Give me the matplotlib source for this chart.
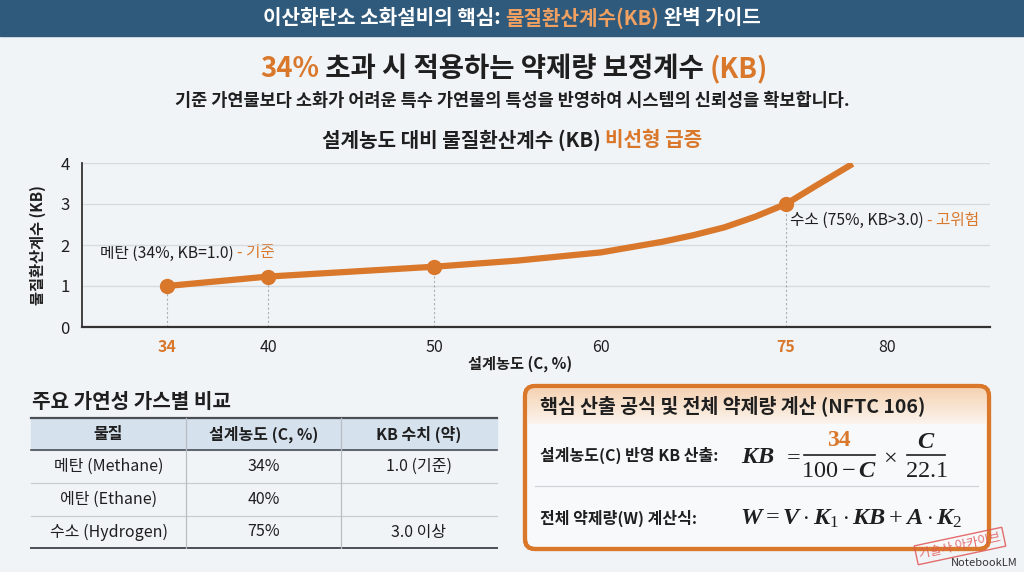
import numpy as np
import matplotlib
matplotlib.use('Agg')
import matplotlib.pyplot as plt
from matplotlib.patches import Rectangle, FancyBboxPatch

plt.rcParams['font.family'] = ['Noto Sans CJK KR', 'DejaVu Sans']
plt.rcParams['mathtext.fontset'] = 'custom'
plt.rcParams['mathtext.it'] = 'Liberation Serif:bold:italic'
plt.rcParams['mathtext.rm'] = 'Liberation Serif'
plt.rcParams['mathtext.bf'] = 'Liberation Serif:bold'

# ---------------- data ----------------
conc_pts = [34, 40, 50, 75]
kb_pts = [1.0, 1.23, 1.47, 3.0]
conc_curve = [34, 40, 50, 55, 60, 62.5, 65, 67.5, 70, 72.5, 75, 76.5, 78.3]
kb_curve = [1.0, 1.23, 1.47, 1.62, 1.82, 1.95, 2.08, 2.24, 2.43, 2.69, 3.0, 3.45, 3.98]
x_ticks = [34, 40, 50, 60, 75, 80]
highlight_ticks = [34, 75]
y_ticks = [0, 1, 2, 3, 4]
table_cols = ['물질', '설계농도 (C, %)', 'KB 수치 (약)']
substances = ['메탄 (Methane)', '에탄 (Ethane)', '수소 (Hydrogen)']
design_conc = ['34%', '40%', '75%']
kb_values = ['1.0 (기준)', '', '3.0 이상']

# axis scale knots (value -> screen position, non-uniform axis as drawn)
scale_vals = [28.9, 34, 40, 50, 60, 75, 80, 85.1]
scale_pos = [82, 167, 268, 434, 601, 786, 887, 990]

ORANGE = '#d9772b'
NAVY = '#2f5a7c'
BG = '#f1f4f7'
DARK = '#1f1f1f'

fig = plt.figure(figsize=(10.24, 5.72), dpi=100)
fig.patch.set_facecolor(BG)
bg = fig.add_axes([0, 0, 1, 1])
bg.set_xlim(0, 1024)
bg.set_ylim(572, 0)
bg.axis('off')
bg.set_zorder(0)

renderer = fig.canvas.get_renderer()


def text_width(s, **kw):
    t1 = bg.text(0, 0, '|' + s + '|', **kw)
    t2 = bg.text(0, 0, '||', **kw)
    w = t1.get_window_extent(renderer).width - t2.get_window_extent(renderer).width
    t1.remove(); t2.remove()
    return w


def runs(x, y, parts, ha='center', **kw):
    widths = [text_width(s, **kw) for s, c in parts]
    total = sum(widths)
    start = x - total / 2 if ha == 'center' else x
    for (s, c), w in zip(parts, widths):
        bg.text(start, y, s, color=c, ha='left', va='center', **kw)
        start += w


# header bar
bg.add_patch(Rectangle((0, 0), 1024, 36, color=NAVY, zorder=1))
runs(512, 18, [('이산화탄소 소화설비의 핵심: ', 'white'), ('물질환산계수(KB)', '#f0a060'),
               (' 완벽 가이드', 'white')], fontsize=14.5, fontweight='bold')

# headline
runs(514, 69, [('34%', ORANGE), (' 초과 시 적용하는 약제량 보정계수 ', DARK), ('(KB)', ORANGE)],
     fontsize=19.8, fontweight='bold')
bg.text(512, 101, '기준 가연물보다 소화가 어려운 특수 가연물의 특성을 반영하여 시스템의 신뢰성을 확보합니다.',
        ha='center', va='center', fontsize=12.6, color=DARK, fontweight='bold')

# chart title
runs(512, 140, [('설계농도 대비 물질환산계수 (KB) ', DARK), ('비선형 급증', ORANGE)],
     fontsize=14.5, fontweight='bold')


# ---------------- chart ----------------
def px2fig(l, t, r, b):
    return [l / 1024, 1 - b / 572, (r - l) / 1024, (b - t) / 572]


ax = fig.add_axes(px2fig(82, 163, 990, 327))
ax.set_facecolor('none')
ax.set_xscale('function', functions=(lambda v: np.interp(v, scale_vals, scale_pos),
                                     lambda p: np.interp(p, scale_pos, scale_vals)))
ax.set_xlim(scale_vals[0], scale_vals[-1])
ax.set_ylim(0, 4)
ax.set_yticks(y_ticks)
ax.set_xticks(x_ticks)
ax.set_xticklabels([str(v) for v in x_ticks])
for lbl, v in zip(ax.get_xticklabels(), x_ticks):
    if v in highlight_ticks:
        lbl.set_color(ORANGE)
        lbl.set_fontweight('bold')
    else:
        lbl.set_color(DARK)
ax.tick_params(axis='x', length=0, pad=9, labelsize=11.5)
ax.tick_params(axis='y', length=0, pad=9, labelsize=12, labelcolor=DARK)
for s in ['top', 'right']:
    ax.spines[s].set_visible(False)
ax.spines['left'].set_color('#333333')
ax.spines['bottom'].set_color('#333333')
ax.spines['left'].set_linewidth(1.3)
ax.spines['bottom'].set_linewidth(1.6)
ax.yaxis.grid(True, color='#d6dbe0', lw=1)
ax.set_axisbelow(True)

ax.vlines(conc_pts, 0, kb_pts, colors='#aab0b6', linestyles=(0, (2, 2)), lw=0.8, zorder=2)
ax.plot(conc_curve, kb_curve, color=ORANGE, lw=4.5, solid_capstyle='butt',
        solid_joinstyle='round', zorder=3)
ax.plot(conc_pts, kb_pts, 'o', color=ORANGE, ms=10, zorder=4)

ax.set_ylabel('물질환산계수 (KB)', fontsize=11, fontweight='bold', color=DARK, labelpad=10)

bg.text(520, 364, '설계농도 (C, %)', ha='center', va='center', fontsize=11, fontweight='bold', color=DARK)
runs(100, 253, [('메탄 (34%, KB=1.0) ', DARK), ('- 기준', ORANGE)], ha='left', fontsize=11.3)
runs(790, 220, [('수소 (75%, KB>3.0) ', DARK), ('- 고위험', ORANGE)], ha='left', fontsize=11.3)

# ---------------- table ----------------
bg.text(32, 402, '주요 가연성 가스별 비교', ha='left', va='center', fontsize=14.5, fontweight='bold', color=DARK)
tl, tr = 31, 497
row_y = [418, 450, 483, 516, 548]
col_x = [31, 186, 341, 497]
bg.add_patch(Rectangle((tl, row_y[0]), tr - tl, row_y[1] - row_y[0], color='#d5e1ec', zorder=1))
bg.plot([tl, tr], [row_y[0]] * 2, color='#4a4f55', lw=1.6, zorder=2)
bg.plot([tl, tr], [row_y[1]] * 2, color='#4a4f55', lw=1.2, zorder=2)
for yy in row_y[2:4]:
    bg.plot([tl, tr], [yy] * 2, color='#c8ccd0', lw=0.9, zorder=2)
bg.plot([tl, tr], [row_y[4]] * 2, color='#4a4f55', lw=1.4, zorder=2)
for xx in col_x[1:3]:
    bg.plot([xx, xx], [row_y[0], row_y[4]], color='#b8bec4', lw=0.9, zorder=2)
centers = [(col_x[i] + col_x[i + 1]) / 2 for i in range(3)]
for c, h in zip(centers, table_cols):
    bg.text(c, (row_y[0] + row_y[1]) / 2, h, ha='center', va='center', fontsize=11.5,
            fontweight='bold', color=DARK)
for r, vals in enumerate(zip(substances, design_conc, kb_values)):
    yc = (row_y[r + 1] + row_y[r + 2]) / 2
    for c, v in zip(centers, vals):
        bg.text(c, yc, v, ha='center', va='center', fontsize=11.5, color=DARK)

# ---------------- formula box ----------------
box = FancyBboxPatch((525, 386), 464, 163, boxstyle='round,pad=0,rounding_size=10',
                     facecolor='#f8f9fb', edgecolor=ORANGE, lw=3, zorder=2)
bg.add_patch(box)
grad = np.linspace(0, 1, 50).reshape(-1, 1)
top_c = np.array([0.96, 0.82, 0.69])
bot_c = np.array([0.985, 0.955, 0.93])
img = top_c[None, None, :] * (1 - grad[:, :, None]) + bot_c[None, None, :] * grad[:, :, None]
im = bg.imshow(img, extent=(525, 989, 424, 386), aspect='auto', zorder=2.5, interpolation='bilinear')
im.set_clip_path(box)
bg.add_patch(FancyBboxPatch((525, 386), 464, 163, boxstyle='round,pad=0,rounding_size=10',
                            facecolor='none', edgecolor=ORANGE, lw=3, zorder=3))
bg.set_xlim(0, 1024)
bg.set_ylim(572, 0)

bg.text(540, 406, '핵심 산출 공식 및 전체 약제량 계산 (NFTC 106)', ha='left', va='center',
        fontsize=14, fontweight='bold', color=DARK, zorder=4)
bg.text(540, 455, '설계농도(C) 반영 KB 산출:', ha='left', va='center', fontsize=11.5,
        fontweight='bold', color=DARK, zorder=4)
bg.plot([535, 978], [486, 486], color='#cfd3d7', lw=0.9, zorder=4)
bg.text(540, 518, '전체 약제량(W) 계산식:', ha='left', va='center', fontsize=11.5,
        fontweight='bold', color=DARK, zorder=4)

fkw = dict(fontsize=17.5, color=DARK, zorder=4, va='center')
bg.text(741, 456, r'$KB$', ha='left', **fkw)
bg.text(792, 456, r'$=$', ha='center', **fkw)
bg.text(839, 441, '34', ha='center', va='center', fontsize=17, color=ORANGE,
        family='Liberation Serif', fontweight='bold', zorder=4)
bg.plot([804, 875], [455, 455], color=DARK, lw=1.2, zorder=4)
bg.text(839, 470, r'$100 - C$', ha='center', **fkw)
bg.text(890, 456, r'$\times$', ha='center', **fkw)
bg.text(926, 441, r'$C$', ha='center', **fkw)
bg.plot([907, 945], [455, 455], color=DARK, lw=1.2, zorder=4)
bg.text(926, 470, r'$22.1$', ha='center', **fkw)

bg.text(740, 518, r'$W = V \cdot K_1 \cdot KB + A \cdot K_2$', ha='left', **fkw)

# watermark
bg.text(960, 546, '기술사 아카이브', ha='center', va='center', fontsize=9, color='#e05555',
        rotation=12, alpha=0.85, zorder=6,
        bbox=dict(boxstyle='square,pad=0.25', fc='none', ec='#e05555', lw=1, alpha=0.85))
bg.text(984, 563, 'NotebookLM', ha='center', va='center', fontsize=8, color='#333333', zorder=6)

fig.savefig('out.png', dpi=100, facecolor=BG)
